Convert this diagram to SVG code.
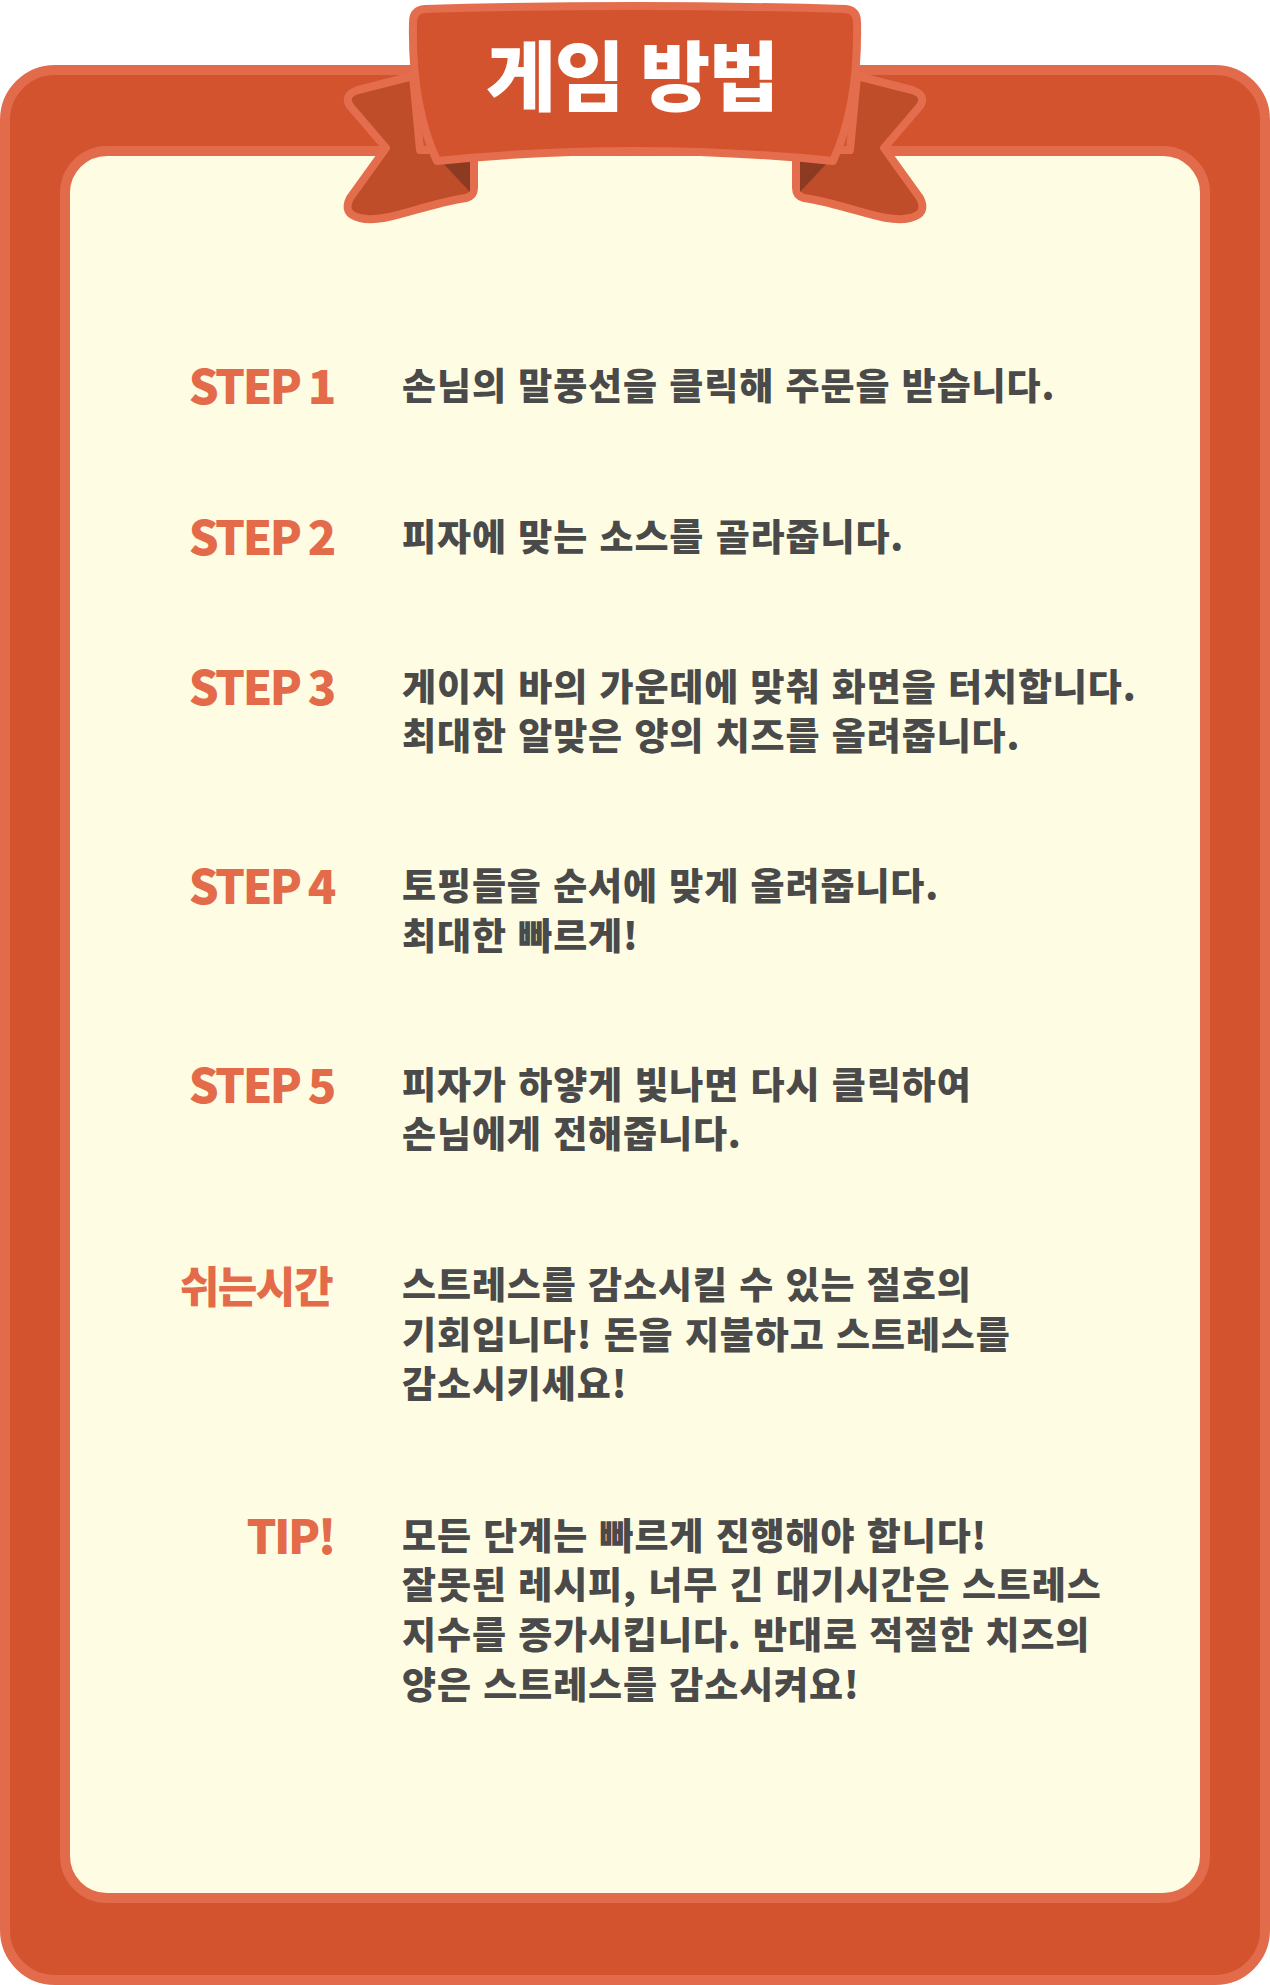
<svg xmlns="http://www.w3.org/2000/svg" width="1270" height="1985" viewBox="0 0 1270 1985">
<style>
.frame{fill:#D2532E;stroke:#E26B4B;stroke-width:10}
.panel{fill:#FEFDE3;stroke:#E26B4B;stroke-width:10}
.tail{fill:#BF4D2A;stroke:#E46D4D;stroke-width:8;stroke-linejoin:round}
.fold{fill:#8C3B22}
.ban{fill:#D2532E;stroke:#E46D4D;stroke-width:8;stroke-linejoin:round}
text{font-family:"Noto Sans CJK KR","Noto Sans",sans-serif;font-weight:900}
.title{fill:#FFFFFF;font-size:76px;text-anchor:middle;letter-spacing:-1px}
.lbl{fill:#E36B4A;font-size:47px;text-anchor:end;letter-spacing:-2.5px}
.klbl{fill:#E36B4A;font-size:43px;text-anchor:end;letter-spacing:-1.5px}
.body{fill:#4A4A4A;font-size:37px;letter-spacing:0.9px;word-spacing:2px}
</style>
<rect class="frame" x="5" y="70" width="1260" height="1910" rx="50"/>
<rect class="panel" x="65" y="151" width="1140" height="1747" rx="42"/>
<g id="banner">
  <g id="tail-left">
    <path class="tail" d="M 413 76 L 358 90 Q 343 95 350 106 L 386 148 L 350 198 Q 342 214 360 218 C 385 224 420 205 466 198 Q 474 196 474 188 L 474 150 L 420 150 Z"/>
    <polygon class="fold" points="440,160 470,160 470,192"/>
  </g>
  <g id="tail-right" transform="translate(1270,0) scale(-1,1)">
    <path class="tail" d="M 413 76 L 358 90 Q 343 95 350 106 L 386 148 L 350 198 Q 342 214 360 218 C 385 224 420 205 466 198 Q 474 196 474 188 L 474 150 L 420 150 Z"/>
    <polygon class="fold" points="440,160 470,160 470,192"/>
  </g>
  <path class="ban" d="M 425 9 Q 635 3 845 9 Q 857 10 857 22 C 858 70 852 120 833 161 Q 635 141 437 161 C 418 120 412 70 413 22 Q 413 10 425 9 Z"/>
  <text class="title" x="632" y="105">게임 방법</text>
</g>
<g id="step1">
  <text class="lbl" x="334" y="404">STEP 1</text>
  <text class="body" x="402" y="400">손님의 말풍선을 클릭해 주문을 받습니다.</text>
</g>
<g id="step2">
  <text class="lbl" x="334" y="555">STEP 2</text>
  <text class="body" x="402" y="551">피자에 맞는 소스를 골라줍니다.</text>
</g>
<g id="step3">
  <text class="lbl" x="334" y="705">STEP 3</text>
  <text class="body" x="402" y="701">게이지 바의 가운데에 맞춰 화면을 터치합니다.<tspan x="402" dy="49">최대한 알맞은 양의 치즈를 올려줍니다.</tspan></text>
</g>
<g id="step4">
  <text class="lbl" x="334" y="904">STEP 4</text>
  <text class="body" x="402" y="900">토핑들을 순서에 맞게 올려줍니다.<tspan x="402" dy="50">최대한 빠르게!</tspan></text>
</g>
<g id="step5">
  <text class="lbl" x="334" y="1103">STEP 5</text>
  <text class="body" x="402" y="1099">피자가 하얗게 빛나면 다시 클릭하여<tspan x="402" dy="49">손님에게 전해줍니다.</tspan></text>
</g>
<g id="rest">
  <text class="klbl" x="332" y="1303">쉬는시간</text>
  <text class="body" x="402" y="1299">스트레스를 감소시킬 수 있는 절호의<tspan x="402" dy="50">기회입니다! 돈을 지불하고 스트레스를</tspan><tspan x="402" dy="49">감소시키세요!</tspan></text>
</g>
<g id="tip">
  <text class="lbl" x="334" y="1554">TIP!</text>
  <text class="body" x="402" y="1550">모든 단계는 빠르게 진행해야 합니다!<tspan x="402" dy="49">잘못된 레시피, 너무 긴 대기시간은 스트레스</tspan><tspan x="402" dy="50">지수를 증가시킵니다. 반대로 적절한 치즈의</tspan><tspan x="402" dy="50">양은 스트레스를 감소시켜요!</tspan></text>
</g>
</svg>
